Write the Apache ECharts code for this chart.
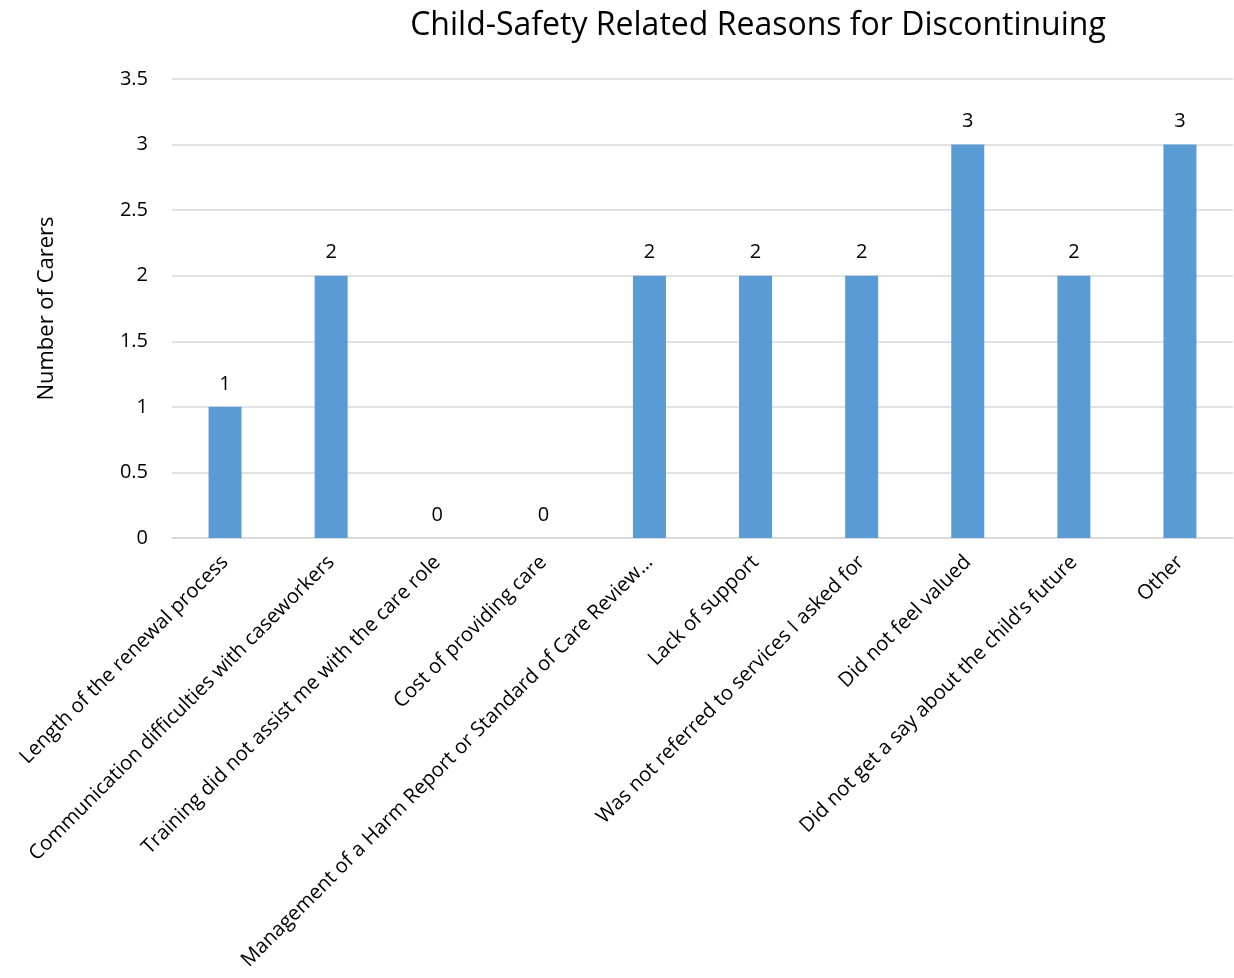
<!DOCTYPE html>
<html><head><meta charset="utf-8">
<script src="https://cdn.jsdelivr.net/npm/echarts@6/dist/echarts.min.js"></script>
<style>html,body{margin:0;padding:0;background:#fff}#c{width:1234px;height:978px}</style>
</head><body><div id="c"></div>
<script>
const categories = [
  "Length of the renewal process",
  "Communication difficulties with caseworkers",
  "Training did not assist me with the care role",
  "Cost of providing care",
  "Management of a Harm Report or Standard of Care Review…",
  "Lack of support",
  "Was not referred to services I asked for",
  "Did not feel valued",
  "Did not get a say about the child's future",
  "Other"
];
const values = [1, 2, 0, 0, 2, 2, 2, 3, 2, 3];
const yTicks = [0, 0.5, 1, 1.5, 2, 2.5, 3, 3.5];
const titleText = "Child-Safety Related Reasons for Discontinuing";
const yAxisTitle = "Number of Carers";

const FONT = "Open Sans";
const chart = echarts.init(document.getElementById('c'), null, {renderer: 'canvas'});
chart.setOption({
  animation: false,
  backgroundColor: '#fff',
  title: {
    text: titleText, left: 753, top: 5, textAlign: 'center',
    textStyle: {fontFamily: FONT, fontSize: 32, fontWeight: 'normal', color: '#000'}
  },
  grid: {left: 172, right: 1, top: 79, bottom: 440, containLabel: false, outerBoundsMode: 'none'},
  xAxis: {
    type: 'category', data: categories,
    axisLine: {lineStyle: {color: '#d9d9d9', width: 1.5}},
    axisTick: {show: false},
    axisLabel: {
      rotate: 45, interval: 0, margin: 21,
      fontFamily: FONT, fontSize: 20.3, color: '#000'
    }
  },
  yAxis: {
    type: 'value', min: 0, max: 3.5, interval: 0.5,
    name: yAxisTitle, nameLocation: 'middle', nameGap: 114, nameRotate: 90,
    nameTextStyle: {fontFamily: FONT, fontSize: 22, color: '#000'},
    axisLine: {show: false}, axisTick: {show: false},
    splitLine: {lineStyle: {color: '#d9d9d9', width: 1.5}},
    axisLabel: {
      fontFamily: FONT, fontSize: 20, color: '#000', margin: 24,
      formatter: v => yTicks.includes(v) ? String(v) : ''
    }
  },
  series: [{
    type: 'bar', data: values, barWidth: 33,
    itemStyle: {color: '#5b9bd5'},
    label: {show: true, position: 'top', distance: 13,
      fontFamily: FONT, fontSize: 20, color: '#000'}
  }]
});
</script></body></html>
